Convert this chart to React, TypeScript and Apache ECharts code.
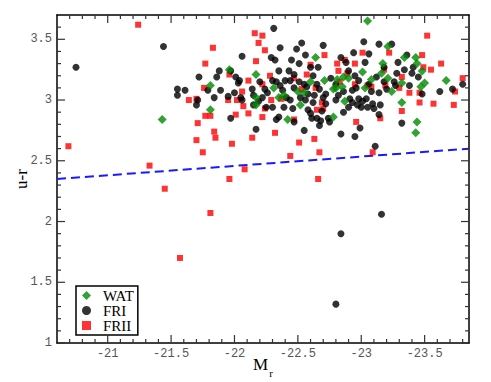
import React, { useEffect, useRef } from "react";
import * as echarts from "echarts";

// ---- data ----
const xRange = [-23.85, -20.6]; // Mr axis (drawn reversed)
const yRange = [1, 3.7]; // u-r axis
const xMajorTicks = [-21, -21.5, -22, -22.5, -23, -23.5];
const yMajorTicks = [1, 1.5, 2, 2.5, 3, 3.5];

// blue dashed dividing line endpoints [Mr, u-r]
const cutLine = [
  [-20.6, 2.35],
  [-23.85, 2.6],
];

const watPoints = [
  [-21.43, 2.84], [-21.81, 3.12], [-21.81, 2.92], [-21.96, 3.25], [-22.17, 3.21],
  [-22.17, 3.02], [-22.17, 2.96], [-22.31, 3.1], [-22.35, 3.02], [-22.39, 3.04],
  [-22.42, 2.84], [-22.5, 3.07], [-22.52, 2.96], [-22.6, 3.15], [-22.64, 3.35],
  [-22.71, 3.16], [-22.78, 2.86], [-22.78, 3.09], [-22.81, 3.17], [-22.85, 3.11],
  [-22.87, 2.99], [-22.9, 3.18], [-22.86, 3.19], [-23.01, 3.23], [-23.03, 3.1],
  [-23.05, 3.65], [-23.08, 3.17], [-23.17, 3.3], [-23.16, 3.22], [-23.21, 3.44],
  [-23.21, 3.18], [-23.24, 3.07], [-23.32, 3.14], [-23.32, 2.98], [-23.34, 3.35],
  [-23.43, 3.35], [-23.44, 3.3], [-23.48, 3.24], [-23.5, 3.14], [-23.47, 3.11],
  [-23.44, 2.82], [-23.43, 2.73], [-23.67, 3.16], [-22.8, 3.1], [-22.55, 3.06],
];

const friPoints = [
  [-20.75, 3.27], [-21.44, 3.44], [-22.31, 3.59], [-22.8, 1.32], [-22.84, 1.9],
  [-23.16, 2.06], [-23.11, 2.62], [-22.95, 2.7], [-22.84, 2.72], [-22.99, 2.77],
  [-22.55, 2.75], [-22.17, 2.76], [-21.97, 2.85], [-23.32, 2.81],
  [-21.55, 3.09], [-21.55, 3.04], [-21.61, 3.08], [-21.71, 3.0], [-21.7, 2.96],
  [-21.72, 3.19], [-21.79, 3.08], [-21.84, 3.02], [-21.86, 3.19], [-21.88, 3.24],
  [-21.89, 3.08], [-21.95, 3.03], [-21.97, 3.24], [-22.01, 3.19], [-22.03, 3.14],
  [-22.04, 3.16], [-22.06, 3.36], [-22.0, 3.06], [-22.05, 3.02], [-22.06, 3.0],
  [-22.14, 3.09], [-22.15, 3.04], [-22.19, 2.99], [-22.22, 3.02], [-22.24, 3.09],
  [-22.26, 3.06], [-22.29, 3.35], [-22.32, 3.33], [-22.35, 3.24], [-22.36, 3.43],
  [-22.3, 2.94], [-22.33, 2.84], [-22.35, 2.86], [-22.39, 2.94], [-22.3, 3.16],
  [-22.33, 3.15], [-22.36, 3.12], [-22.38, 3.08], [-22.4, 3.16], [-22.43, 3.24],
  [-22.45, 3.33], [-22.46, 2.93], [-22.47, 2.82], [-22.49, 3.42], [-22.51, 3.3],
  [-22.53, 3.47], [-22.44, 3.16], [-22.47, 3.1], [-22.51, 3.15], [-22.52, 3.02],
  [-22.57, 3.11], [-22.56, 3.0], [-22.58, 2.92], [-22.6, 2.89], [-22.61, 2.85],
  [-22.6, 3.27], [-22.62, 3.2], [-22.63, 3.04], [-22.65, 2.85], [-22.66, 3.27],
  [-22.67, 3.09], [-22.68, 2.83], [-22.67, 2.79], [-22.69, 2.91], [-22.7, 3.45],
  [-22.7, 3.02], [-22.72, 2.97], [-22.74, 2.85], [-22.75, 2.82], [-22.76, 3.18],
  [-22.8, 3.13], [-22.82, 3.04], [-22.84, 3.35], [-22.86, 2.9], [-22.88, 3.31],
  [-22.9, 3.24], [-22.91, 3.01], [-22.93, 3.08], [-22.94, 3.39], [-22.95, 3.2],
  [-22.96, 3.1], [-22.98, 3.16], [-23.01, 2.99], [-23.02, 3.48], [-23.03, 3.31],
  [-23.04, 3.01], [-23.05, 2.94], [-23.06, 3.38], [-23.08, 3.07], [-23.09, 2.97],
  [-23.1, 2.93], [-23.12, 3.19], [-23.14, 3.46], [-23.14, 3.06], [-23.15, 2.96],
  [-23.14, 2.88], [-23.24, 3.46], [-23.26, 3.15], [-23.27, 3.12], [-23.29, 3.31],
  [-23.34, 3.25], [-23.36, 3.37], [-23.38, 3.12], [-23.4, 3.22], [-23.41, 3.27],
  [-23.45, 3.19], [-23.48, 3.05], [-23.62, 3.07], [-23.72, 3.09], [-23.8, 3.13],
  [-22.9, 2.94], [-22.93, 2.98], [-22.98, 3.01], [-23.0, 2.94], [-22.65, 3.13],
  [-22.55, 3.13], [-22.41, 3.02], [-22.44, 3.0], [-22.62, 2.98], [-22.8, 3.0],
  [-22.86, 3.07], [-22.2, 3.15], [-22.15, 2.96], [-22.25, 2.94], [-23.18, 3.15],
  [-23.2, 3.09], [-23.28, 3.22], [-23.18, 3.27], [-22.56, 3.37], [-22.72, 3.05],
  [-22.58, 3.05], [-22.47, 3.21], [-22.97, 2.96], [-23.06, 3.13],
];

const friiPoints = [
  [-20.69, 2.62], [-21.24, 3.62], [-21.33, 2.46], [-21.45, 2.27], [-21.57, 1.7],
  [-21.64, 3.0], [-21.7, 3.01], [-21.71, 2.81], [-21.7, 2.67], [-21.75, 2.57],
  [-21.76, 3.1], [-21.77, 2.87], [-21.77, 3.3], [-21.81, 2.07], [-21.81, 2.87],
  [-21.83, 3.43], [-21.84, 2.74], [-21.85, 2.69], [-21.96, 2.35], [-21.95, 3.0],
  [-21.96, 3.21], [-21.98, 2.64], [-22.01, 2.88], [-22.02, 3.0], [-22.06, 3.07],
  [-22.07, 2.95], [-22.08, 2.43], [-22.11, 3.16], [-22.11, 2.89], [-22.14, 2.69],
  [-22.16, 3.55], [-22.17, 3.32], [-22.19, 3.47], [-22.22, 3.13], [-22.22, 2.86],
  [-22.22, 3.53], [-22.24, 3.41], [-22.24, 2.93], [-22.28, 3.2], [-22.29, 3.0],
  [-22.32, 2.73], [-22.37, 3.01], [-22.44, 2.54], [-22.47, 2.84], [-22.47, 3.18],
  [-22.51, 2.65], [-22.53, 3.09], [-22.57, 3.21], [-22.6, 3.29], [-22.63, 2.68],
  [-22.64, 3.1], [-22.65, 2.92], [-22.66, 2.35], [-22.67, 2.57], [-22.69, 2.98],
  [-22.7, 2.93], [-22.71, 3.37], [-22.81, 3.3], [-22.82, 3.24], [-22.83, 3.15],
  [-22.87, 3.33], [-22.89, 3.22], [-22.95, 3.3], [-22.96, 2.82], [-23.01, 3.39],
  [-23.05, 3.12], [-23.09, 2.57], [-23.15, 2.85], [-23.18, 3.25], [-23.19, 3.12],
  [-23.22, 3.39], [-23.3, 3.1], [-23.32, 3.19], [-23.32, 2.91], [-23.38, 3.06],
  [-23.46, 2.98], [-23.46, 3.06], [-23.48, 3.37], [-23.49, 3.27], [-23.52, 3.53],
  [-23.55, 3.25], [-23.57, 2.97], [-23.63, 3.3], [-23.73, 2.96], [-23.74, 3.07],
  [-23.8, 3.18], [-22.95, 3.13], [-23.08, 3.11],
];

// minor tick positions every 0.1 (axis decoration only)
const xMinorTicks: number[] = [];
for (let k = 207; k <= 238; k++) if (k % 5 !== 0) xMinorTicks.push(-k / 10);
const yMinorTicks: number[] = [];
for (let k = 11; k <= 36; k++) if (k % 5 !== 0) yMinorTicks.push(k / 10);

const W = 491;
const H = 382;
const tickColor = "#333";
const TW = 1.2;
const MAJ = 8;
const MIN = 4;
const labelStyle = {
  fontFamily: "Liberation Mono",
  fontSize: 12,
  color: "#555",
};

export default function App() {
  const ref = useRef<HTMLDivElement>(null);

  useEffect(() => {
    document.body.style.margin = "0";
    if (!ref.current) return;
    const chart = echarts.init(ref.current, null, { renderer: "svg" });

    const frameAxisLine = { show: true, lineStyle: { color: "#000", width: 1.5 } };

    // inward tick marks drawn through the chart's coordinate system
    const xTickData = [
      ...xMajorTicks.map((v) => [v, yRange[0], 1]),
      ...xMinorTicks.map((v) => [v, yRange[0], 0]),
    ];
    const yTickData = [
      ...yMajorTicks.map((v) => [xRange[1], v, 1]),
      ...yMinorTicks.map((v) => [xRange[1], v, 0]),
    ];
    const renderXTick = (params: any, api: any) => {
      const v = api.value(0);
      const len = api.value(2) ? MAJ : MIN;
      const pb = api.coord([v, yRange[0]]);
      const pt = api.coord([v, yRange[1]]);
      return {
        type: "group",
        children: [
          { type: "rect", shape: { x: pb[0] - TW / 2, y: pb[1] - len, width: TW, height: len }, style: { fill: tickColor } },
          { type: "rect", shape: { x: pt[0] - TW / 2, y: pt[1], width: TW, height: len }, style: { fill: tickColor } },
        ],
      };
    };
    const renderYTick = (params: any, api: any) => {
      const v = api.value(1);
      const len = api.value(2) ? MAJ : MIN;
      const pl = api.coord([xRange[1], v]);
      const pr = api.coord([xRange[0], v]);
      return {
        type: "group",
        children: [
          { type: "rect", shape: { x: pl[0], y: pl[1] - TW / 2, width: len, height: TW }, style: { fill: tickColor } },
          { type: "rect", shape: { x: pr[0] - len, y: pr[1] - TW / 2, width: len, height: TW }, style: { fill: tickColor } },
        ],
      };
    };

    const option: any = {
      animation: false,
      backgroundColor: "#fff",
      grid: {
        left: 57,
        right: 22,
        top: 15,
        bottom: 39,
        containLabel: false,
        outerBoundsMode: "none",
      },
      legend: {
        show: true,
        left: 76,
        top: 286,
        orient: "vertical",
        data: ["WAT", "FRI", "FRII"],
        borderColor: "#000",
        borderWidth: 1.5,
        borderRadius: 0,
        backgroundColor: "#fff",
        padding: [2, 4, 2, 6],
        itemGap: 0,
        itemWidth: 9,
        itemHeight: 9,
        textStyle: {
          fontFamily: "Liberation Serif",
          fontSize: 15,
          lineHeight: 14,
          color: "#000",
          padding: [0, 0, 0, 7],
        },
      },
      xAxis: [
        {
          type: "value",
          position: "bottom",
          min: xRange[0],
          max: xRange[1],
          inverse: true,
          axisLine: frameAxisLine,
          axisTick: { show: false },
          axisLabel: { show: true, customValues: xMajorTicks, margin: 5, ...labelStyle },
          splitLine: { show: false },
          name: "{m|M}{s|r}",
          nameLocation: "middle",
          nameGap: 13,
          nameMoveOverlap: false,
          nameTextStyle: {
            rich: {
              m: { fontFamily: "Liberation Serif", fontSize: 17, color: "#000", verticalAlign: "top" },
              s: { fontFamily: "Liberation Serif", fontSize: 11, color: "#000", verticalAlign: "top", padding: [11, 0, 0, 1] },
            },
          },
        },
        {
          type: "value",
          position: "top",
          min: xRange[0],
          max: xRange[1],
          inverse: true,
          axisLine: frameAxisLine,
          axisTick: { show: false },
          axisLabel: { show: false },
          splitLine: { show: false },
        },
      ],
      yAxis: [
        {
          type: "value",
          position: "left",
          min: yRange[0],
          max: yRange[1],
          axisLine: frameAxisLine,
          axisTick: { show: false },
          axisLabel: { show: true, customValues: yMajorTicks, margin: 5, ...labelStyle },
          splitLine: { show: false },
        },
        {
          type: "value",
          position: "right",
          min: yRange[0],
          max: yRange[1],
          axisLine: frameAxisLine,
          axisTick: { show: false },
          axisLabel: { show: false },
          splitLine: { show: false },
        },
        {
          // carries only the axis title, so the title is not pushed by tick labels
          type: "value",
          position: "left",
          min: yRange[0],
          max: yRange[1],
          axisLine: { show: false },
          axisTick: { show: false },
          axisLabel: { show: false },
          splitLine: { show: false },
          name: "u-r",
          nameLocation: "middle",
          nameGap: 27,
          nameRotate: 90,
          nameTextStyle: { fontFamily: "Liberation Serif", fontSize: 17, color: "#000" },
        },
      ],
      series: [
        {
          name: "cut",
          type: "line",
          data: cutLine,
          symbol: "none",
          silent: true,
          lineStyle: { color: "#1a1aff", width: 2, type: [9, 5] },
          z: 1,
        },
        {
          name: "FRII",
          type: "scatter",
          data: friiPoints,
          symbol: "rect",
          symbolSize: 6,
          itemStyle: { color: "#ff0000" },
          z: 2,
        },
        {
          name: "FRI",
          type: "scatter",
          data: friPoints,
          symbol: "circle",
          symbolSize: 7,
          itemStyle: { color: "#000" },
          z: 3,
        },
        {
          name: "WAT",
          type: "scatter",
          data: watPoints,
          symbol: "diamond",
          symbolSize: 9,
          itemStyle: { color: "#008a00" },
          z: 4,
        },
        {
          name: "xticks",
          type: "custom",
          coordinateSystem: "cartesian2d",
          data: xTickData,
          encode: { x: 0, y: 1 },
          renderItem: renderXTick,
          silent: true,
          clip: false,
          z: 10,
        },
        {
          name: "yticks",
          type: "custom",
          coordinateSystem: "cartesian2d",
          data: yTickData,
          encode: { x: 0, y: 1 },
          renderItem: renderYTick,
          silent: true,
          clip: false,
          z: 10,
        },
      ],
    };
    chart.setOption(option);
    return () => chart.dispose();
  }, []);

  return <div ref={ref} style={{ width: W, height: H }} />;
}
